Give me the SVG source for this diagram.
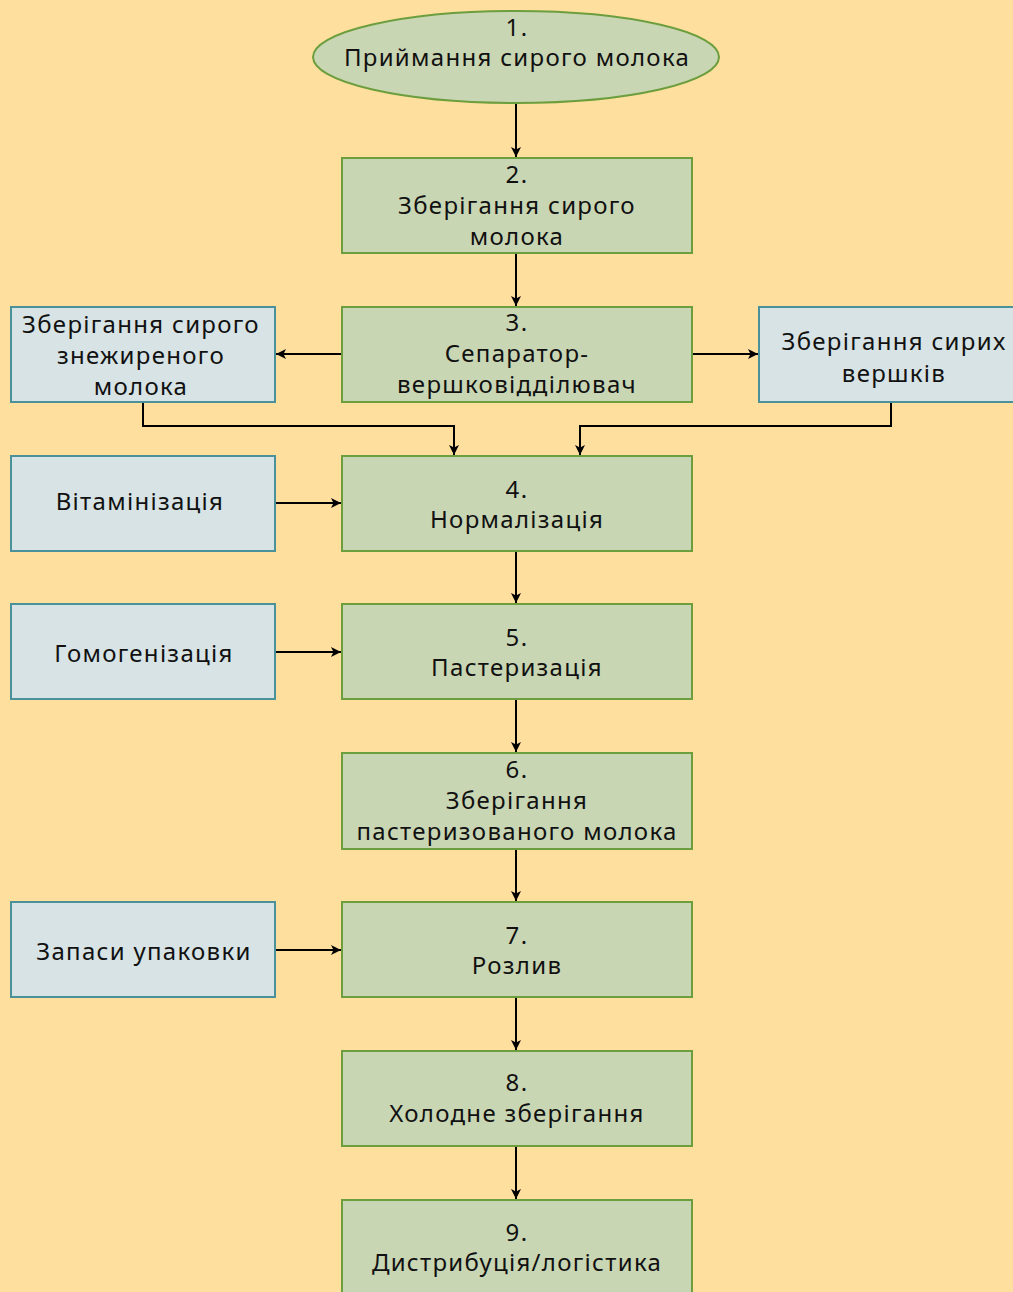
<svg xmlns="http://www.w3.org/2000/svg" width="1013" height="1292" viewBox="0 0 1013 1292">
<defs>
<marker id="arr" viewBox="0 0 10 10" refX="10" refY="5" markerWidth="10" markerHeight="10" markerUnits="userSpaceOnUse" orient="auto">
<path d="M0,0 L10,5 L0,10 L2.5,5 Z" fill="#000"/>
</marker>
</defs>
<style>
.g{fill:#C9D6B4;stroke:#6C9E3E;stroke-width:2}
.b{fill:#D7E3E4;stroke:#4A9199;stroke-width:2}
text{font-family:"Noto Sans","Open Sans",sans-serif;font-size:24px;letter-spacing:1.3px;fill:#111;text-anchor:middle}
.c{fill:none;stroke:#000;stroke-width:2;marker-end:url(#arr)}
</style>
<rect width="1013" height="1292" fill="#FFDF9E"/>
<g id="connectors">
<path class="c" d="M516,103 V157"/>
<path class="c" d="M516,253 V306"/>
<path class="c" d="M342,354 H276"/>
<path class="c" d="M692,354 H758"/>
<path class="c" d="M143,402 V426 H454 V455"/>
<path class="c" d="M891,402 V426 H580 V455"/>
<path class="c" d="M275,503 H341"/>
<path class="c" d="M516,551 V603"/>
<path class="c" d="M275,652 H341"/>
<path class="c" d="M516,699 V752"/>
<path class="c" d="M516,849 V901"/>
<path class="c" d="M275,950 H341"/>
<path class="c" d="M516,997 V1050"/>
<path class="c" d="M516,1146 V1199"/>
</g>
<g id="n1"><ellipse class="g" cx="516" cy="57" rx="203" ry="46"/><text x="517" y="36">1.</text><text x="517" y="66">Приймання сирого молока</text></g>
<g id="n2"><rect class="g" x="342" y="158" width="350" height="95"/><text x="517" y="183">2.</text><text x="517" y="214">Зберігання сирого</text><text x="517" y="245">молока</text></g>
<g id="n3"><rect class="g" x="342" y="307" width="350" height="95"/><text x="517" y="331">3.</text><text x="517" y="362">Сепаратор-</text><text x="517" y="393">вершковідділювач</text></g>
<g id="nL"><rect class="b" x="11" y="307" width="264" height="95"/><text x="141" y="333">Зберігання сирого</text><text x="141" y="364">знежиреного</text><text x="141" y="395">молока</text></g>
<g id="nR"><rect class="b" x="759" y="307" width="264" height="95"/><text x="894" y="350">Зберігання сирих</text><text x="894" y="382">вершків</text></g>
<g id="n4"><rect class="g" x="342" y="456" width="350" height="95"/><text x="517" y="498">4.</text><text x="517" y="528">Нормалізація</text></g>
<g id="nV"><rect class="b" x="11" y="456" width="264" height="95"/><text x="140" y="510">Вітамінізація</text></g>
<g id="n5"><rect class="g" x="342" y="604" width="350" height="95"/><text x="517" y="646">5.</text><text x="517" y="676">Пастеризація</text></g>
<g id="nH"><rect class="b" x="11" y="604" width="264" height="95"/><text x="144" y="662">Гомогенізація</text></g>
<g id="n6"><rect class="g" x="342" y="753" width="350" height="96"/><text x="517" y="778">6.</text><text x="517" y="809">Зберігання</text><text x="517" y="840">пастеризованого молока</text></g>
<g id="n7"><rect class="g" x="342" y="902" width="350" height="95"/><text x="517" y="944">7.</text><text x="517" y="974">Розлив</text></g>
<g id="nZ"><rect class="b" x="11" y="902" width="264" height="95"/><text x="144" y="960">Запаси упаковки</text></g>
<g id="n8"><rect class="g" x="342" y="1051" width="350" height="95"/><text x="517" y="1091">8.</text><text x="517" y="1122">Холодне зберігання</text></g>
<g id="n9"><rect class="g" x="342" y="1200" width="350" height="100"/><text x="517" y="1241">9.</text><text x="517" y="1271">Дистрибуція/логістика</text></g>
</svg>
